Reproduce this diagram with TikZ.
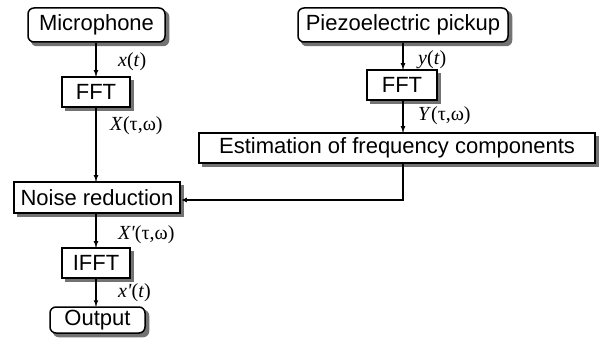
\documentclass[tikz,border=0pt]{standalone}
\usepackage{fontspec}
\setmainfont{Liberation Sans}
\newfontfamily\tms{Liberation Serif}
\usetikzlibrary{arrows.meta,backgrounds}
\begin{document}
\begin{tikzpicture}[x=1pt,y=-1pt,
  box/.style={draw=black, line width=1.5pt, fill=white, inner sep=0pt,
    font=\fontsize{22}{25}\selectfont},
  rbox/.style={box, rounded corners=6pt},
  shd/.style={fill=black!55},
  lab/.style={anchor=west, inner sep=0pt, font=\tms\fontsize{20}{22}\selectfont},
  conn/.style={draw=black, line width=1.6pt, -{Latex[length=6pt,width=5pt]}},
  connshd/.style={draw=black!45, line width=2pt}]
\useasboundingbox (0,0) rectangle (601,352);
\node[rbox, minimum width=137pt, minimum height=34pt] (mic) at (96.5,25) {Microphone};
\node[box, minimum width=68pt, minimum height=30pt] (fft1) at (96,92) {FFT};
\node[box, minimum width=166pt, minimum height=31pt] (nr) at (97,197.5) {Noise reduction};
\node[box, minimum width=68pt, minimum height=30pt] (ifft) at (96,263) {IFFT};
\node[rbox, minimum width=95pt, minimum height=26pt] (out) at (97.5,320) {Output};
\node[rbox, minimum width=210pt, minimum height=34pt] (pz) at (403,25) {Piezoelectric pickup};
\node[box, minimum width=70pt, minimum height=30pt] (fft2) at (402,85) {FFT};
\node[box, minimum width=396pt, minimum height=30pt] (est) at (397,148) {Estimation of frequency components};
\coordinate (bend) at (403,200);
\begin{scope}[on background layer]
  \foreach \n in {fft1,nr,ifft,fft2,est}
    \fill[shd] ([xshift=3.5pt,yshift=-3.5pt]\n.south west) rectangle ([xshift=3.5pt,yshift=-3.5pt]\n.north east);
  \foreach \n in {mic,out,pz}
    \fill[shd, rounded corners=6pt] ([xshift=3.5pt,yshift=-3.5pt]\n.south west) rectangle ([xshift=3.5pt,yshift=-3.5pt]\n.north east);
  \begin{scope}[xshift=2pt,yshift=-2pt]
    \draw[connshd] (mic.south -| fft1.north) -- (fft1.north);
    \draw[connshd] (fft1.south) -- (fft1.south |- nr.north);
    \draw[connshd] (nr.south -| ifft.north) -- (ifft.north);
    \draw[connshd] (ifft.south) -- (ifft.south |- out.north);
    \draw[connshd] (pz.south -| bend) -- (fft2.north -| bend);
    \draw[connshd] (fft2.south -| bend) -- (est.north -| bend);
    \draw[connshd] (est.south -| bend) -- (bend) -- (bend -| nr.east);
  \end{scope}
\end{scope}
\draw[conn] (mic.south -| fft1.north) -- (fft1.north);
\draw[conn] (fft1.south) -- (fft1.south |- nr.north);
\draw[conn] (nr.south -| ifft.north) -- (ifft.north);
\draw[conn] (ifft.south) -- (ifft.south |- out.north);
\draw[conn] (pz.south -| bend) -- (fft2.north -| bend);
\draw[conn] (fft2.south -| bend) -- (est.north -| bend);
\draw[conn] (est.south -| bend) -- (bend) -- (bend -| nr.east);
\node[lab] (l1) at (118,62) {\textit{x}(\textit{t})};
\node[lab] (l2) at (110,126) {\textit{X}(τ,ω)};
\node[lab] (l3) at (418,60) {\textit{y}(\textit{t})};
\node[lab] (l4) at (418,116) {\textit{Y}(τ,ω)};
\node[lab] (l5) at (118,235) {\textit{X'}(τ,ω)};
\node[lab] (l6) at (118,293) {\textit{x'}(\textit{t})};
\end{tikzpicture}
\end{document}
